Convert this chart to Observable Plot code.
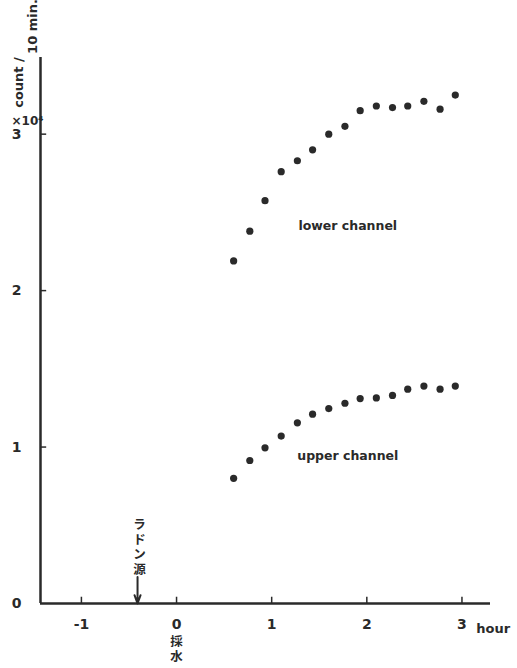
<!DOCTYPE html>
<html><head><meta charset="utf-8">
<script src="https://cdn.jsdelivr.net/npm/d3@7"></script>
<script src="https://cdn.jsdelivr.net/npm/@observablehq/plot@0.6"></script>
<style>
body{margin:0;background:#fff}
#chart svg{overflow:visible}
</style>
</head><body><div id="chart"></div>
<script>
// Time after water sampling (hour)
const timeHours = [0.6,0.77,0.93,1.1,1.27,1.43,1.6,1.77,1.93,2.1,2.27,2.43,2.6,2.77,2.93];
// Counts per 10 min (x10^4)
const lowerChannel = [2.19,2.38,2.575,2.76,2.83,2.90,3.00,3.05,3.15,3.18,3.17,3.18,3.21,3.16,3.25];
const upperChannel = [0.80,0.914,0.995,1.07,1.155,1.21,1.246,1.28,1.31,1.314,1.33,1.37,1.39,1.37,1.39];
const xTicks = [-1,0,1,2,3];
const yTicks = [0,1,2,3];
const radonTime = [-0.41];

const xDomain = [-1.43, 3.3];
const yDomain = [0, 3.49];

const lower = timeHours.map((t,i)=>({t, v: lowerChannel[i]}));
const upper = timeHours.map((t,i)=>({t, v: upperChannel[i]}));
const ink = "#2a2a2a";

const chart = Plot.plot({
  width: 517,
  height: 668,
  marginLeft: 40,
  marginRight: 27,
  marginTop: 57,
  marginBottom: 65,
  x: {domain: xDomain},
  y: {domain: yDomain},
  style: {fontFamily: "DejaVu Sans", fontSize: "13px", color: ink, background: "#fff"},
  marks: [
    Plot.axisX(xTicks, {label: null, tickSize: 0, tickPadding: 16, fontSize: 14, fontWeight: "bold", tickFormat: d => d < 0 ? "-" + Math.abs(d) : String(d)}),
    Plot.axisY(yTicks, {label: null, tickSize: 0, tickPadding: 19, fontSize: 14, fontWeight: "bold", tickFormat: d => String(d)}),
    Plot.ruleY([0], {stroke: ink, strokeWidth: 2.5}),
    Plot.ruleX([xDomain[0]], {stroke: ink, strokeWidth: 2.5}),
    Plot.ruleX(xTicks, {x: d => d, y1: 0, y2: 0.04, stroke: ink, strokeWidth: 1.5}),
    Plot.ruleY(yTicks.filter(d => d > 0), {y: d => d, x1: xDomain[0], x2: xDomain[0] + 0.065, stroke: ink, strokeWidth: 1.5}),
    Plot.dot(lower, {x: "t", y: "v", r: 3.6, fill: ink, stroke: "none"}),
    Plot.dot(upper, {x: "t", y: "v", r: 3.6, fill: ink, stroke: "none"}),
    Plot.text(["lower channel"], {x: 1.8, y: 2.415, fontSize: 12.5, fontWeight: 600, style: "letter-spacing:1.1px"}),
    Plot.text(["upper channel"], {x: 1.8, y: 0.946, fontSize: 12.5, fontWeight: 600, style: "letter-spacing:1.1px"}),
    Plot.arrow(radonTime, {x1: d => d, x2: d => d, y1: 0.17, y2: 0, stroke: ink, strokeWidth: 2, headLength: 9, headAngle: 40}),
    Plot.text(radonTime, {x: d => d + 0.02, y: 0.19, text: () => "ラ\nド\nン\n源", lineAnchor: "bottom", lineHeight: 1.2, fontSize: 12.5, fontWeight: "bold", fontFamily: "Noto Sans CJK JP"}),
    Plot.text([0], {x: d => d, y: 0, dy: 32, text: () => "採\n水", lineAnchor: "top", lineHeight: 1.2, fontSize: 12.5, fontWeight: "bold", fontFamily: "Noto Sans CJK JP"}),
    Plot.text(["hour"], {x: 3.15, y: 0, dy: 25, textAnchor: "start", fontSize: 13, fontWeight: "bold"}),
    Plot.text(["count /"], {frameAnchor: "top-left", dx: -27, dy: 25, rotate: -90, textAnchor: "middle", fontSize: 13, fontWeight: 600}),
    Plot.text(["10 min."], {frameAnchor: "top-left", dx: -13, dy: -31, rotate: -90, textAnchor: "middle", fontSize: 13, fontWeight: 600}),
    Plot.text(["×10⁴"], {frameAnchor: "top-left", dx: -29, dy: 59, textAnchor: "start", fontSize: 12, fontWeight: 600})
  ]
});
document.getElementById("chart").append(chart);
</script>
</body></html>
